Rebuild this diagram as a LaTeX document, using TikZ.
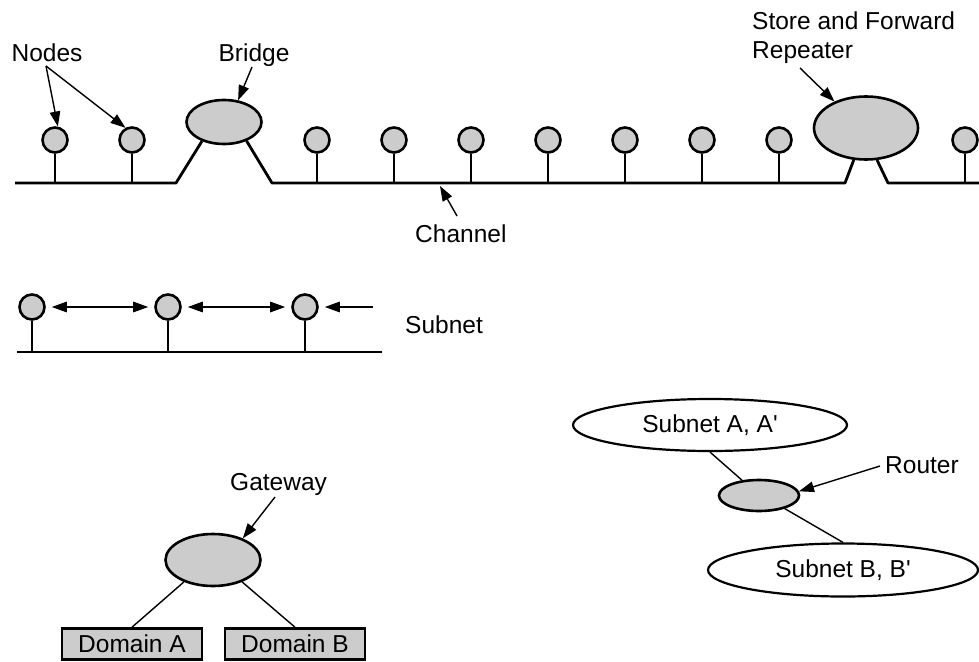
\documentclass[tikz,border=0pt]{standalone}
\usepackage{fontspec}
\setmainfont{Liberation Sans}
\usetikzlibrary{shapes.geometric,arrows.meta}
\definecolor{dotgray}{gray}{0.8}
\begin{document}
\begin{tikzpicture}[x=1pt,y=-1pt,
  thk/.style={line width=2.8pt},
  thn/.style={line width=1.4pt},
  arr/.style={line width=1.4pt,-{Triangle[length=15pt,width=10.5pt]}},
  dbl/.style={line width=1.4pt,{Triangle[length=15pt,width=10.5pt]}-{Triangle[length=15pt,width=10.5pt]}},
  station/.style={circle,draw,line width=2.6pt,fill=dotgray,minimum size=25pt,inner sep=0pt},
  blob/.style={ellipse,draw,line width=2.6pt,fill=dotgray,inner sep=0pt},
  subnetshape/.style={ellipse,draw,line width=2.2pt,fill=white,inner sep=0pt,font=\fontsize{24.5}{29}\selectfont},
  lbl/.style={inner sep=0pt,font=\fontsize{24.5}{29}\selectfont},
  dombox/.style={rectangle,draw,line width=2.6pt,fill=dotgray,minimum width=140pt,minimum height=31pt,inner sep=0pt,font=\fontsize{24.5}{29}\selectfont}
]
\useasboundingbox (0,0) rectangle (979,661);

% ---------- top channel ----------
\coordinate (chy) at (0,183);
\coordinate (chL) at (15,183);
\coordinate (chR) at (979,183);
\node[blob,minimum width=75pt,minimum height=44pt] (bridge) at (224,122) {};
\node[blob,minimum width=104pt,minimum height=63pt] (rep) at (866,128) {};
\draw[thk,line join=round] (chL) -- (176,183) -- (bridge.221);
\draw[thk,line join=round] (bridge.320) -- (272,183) -- (845,183) -- (rep.249);
\draw[thk,line join=round] (rep.289) -- (888,183) -- (chR);

\foreach \i/\x in {1/55,2/132,3/317,4/394,5/471,6/548,7/625,8/702,9/779,10/965}{
  \node[station] (n\i) at (\x,140) {};
  \draw[thk] (n\i.south) -- (n\i.south |- chy);
}

\node[lbl,anchor=base] (nodeslbl) at (47,62) {Nodes};
\coordinate (nodesarr) at (46,66);
\draw[arr] (nodesarr) -- (n1.78);
\draw[arr] (nodesarr) -- (n2.118);

\node[lbl,anchor=base] (bridgelbl) at (254,62) {Bridge};
\coordinate (bridgearr) at (252,67);
\draw[arr] (bridgearr) -- (bridge.57);

\node[lbl,anchor=base west] (sfr1) at (752,30) {Store and Forward};
\node[lbl,anchor=base west] (sfr2) at (752,59) {Repeater};
\coordinate (reparr) at (800,68);
\draw[arr] (reparr) -- (rep.140);

\node[lbl,anchor=base west] (chlbl) at (415,242) {Channel};
\coordinate (charr) at (457,216);
\coordinate (chtip) at (440,186);
\draw[arr] (charr) -- (chtip);

% ---------- subnet row ----------
\coordinate (sy) at (0,352);
\draw[thk] (17,352) -- (382,352);
\foreach \i/\x in {1/32,2/168,3/305}{
  \node[station] (s\i) at (\x,307) {};
  \draw[thk] (s\i.south) -- (s\i.south |- sy);
}
\draw[dbl,shorten <=6pt,shorten >=6pt] (s1.east) -- (s2.west);
\draw[dbl,shorten <=6pt,shorten >=6pt] (s2.east) -- (s3.west);
\coordinate (sarr) at (373,307);
\draw[arr,shorten >=6pt] (sarr) -- (s3.east);
\node[lbl,anchor=base west] (subnetlbl) at (405,333) {Subnet};

% ---------- gateway ----------
\node[blob,minimum width=95pt,minimum height=52pt] (gw) at (213,560) {};
\node[lbl,anchor=base west] (gwlbl) at (230,490) {Gateway};
\coordinate (gwarr) at (275,497);
\draw[arr] (gwarr) -- (gw.36);
\node[dombox] (doma) at (132,644) {Domain A};
\node[dombox] (domb) at (295,644) {Domain B};
\draw[thn] (gw.217) -- (doma.north);
\draw[thn] (gw.323) -- (domb.north);

% ---------- router ----------
\node[subnetshape,minimum width=274pt,minimum height=52pt] (suba) at (710,425) {Subnet A, A\textquotesingle};
\node[subnetshape,minimum width=270pt,minimum height=53pt] (subb) at (843,570) {Subnet B, B\textquotesingle};
\node[blob,minimum width=80pt,minimum height=31pt] (router) at (759,495.5) {};
\draw[thn] (suba.south) -- (router.138);
\draw[thn] (router.-27) -- (subb.north);
\node[lbl,anchor=base west] (routerlbl) at (885,473) {Router};
\coordinate (routerarr) at (880,466);
\draw[arr] (routerarr) -- (router.6);
\end{tikzpicture}
\end{document}
